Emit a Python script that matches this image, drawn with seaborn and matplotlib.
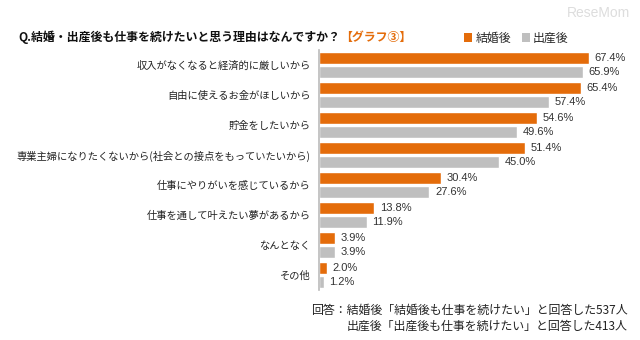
import matplotlib
matplotlib.use("Agg")
import matplotlib.pyplot as plt
from matplotlib.patches import Patch
import seaborn as sns
import pandas as pd

categories = [
    "収入がなくなると経済的に厳しいから",
    "自由に使えるお金がほしいから",
    "貯金をしたいから",
    "専業主婦になりたくないから(社会との接点をもっていたいから)",
    "仕事にやりがいを感じているから",
    "仕事を通して叶えたい夢があるから",
    "なんとなく",
    "その他",
]
series_names = ["結婚後", "出産後"]
after_marriage = [67.4, 65.4, 54.6, 51.4, 30.4, 13.8, 3.9, 2.0]
after_birth = [65.9, 57.4, 49.6, 45.0, 27.6, 11.9, 3.9, 1.2]
colors = ["#E46C0A", "#BFBFBF"]

title_main = "Q.結婚・出産後も仕事を続けたいと思う理由はなんですか？"
title_tag = "【グラフ③】"
footnotes = [
    "回答：結婚後「結婚後も仕事を続けたい」と回答した537人",
    "出産後「出産後も仕事を続けたい」と回答した413人",
]

df = pd.DataFrame({
    "category": categories * 2,
    "value": after_marriage + after_birth,
    "series": [series_names[0]] * len(categories) + [series_names[1]] * len(categories),
})

sns.set_theme(style="white")
plt.rcParams["font.family"] = ["Noto Sans CJK JP", "DejaVu Sans"]

W, H = 640, 340
fig = plt.figure(figsize=(W / 100, H / 100), dpi=100)
ax = fig.add_axes([319 / W, 1 - 290 / H, 300 / W, 240 / H])

sns.barplot(data=df, x="value", y="category", hue="series", orient="h",
            palette=colors, width=0.88, gap=0.1, legend=False, ax=ax,
            saturation=1, errorbar=None)

ax.set_xlim(0, 75)
ax.set_ylim(len(categories) - 0.5, -0.5)
ax.set_xlabel("")
ax.set_ylabel("")
ax.set_xticks([])
for s in ["top", "right", "bottom"]:
    ax.spines[s].set_visible(False)
ax.spines["left"].set_color("#BBBBBB")
ax.spines["left"].set_linewidth(1.2)
ax.tick_params(axis="y", length=0, pad=6, labelsize=7.4, labelcolor="#222222")

for cont in ax.containers:
    ax.bar_label(cont, fmt="%.1f%%", padding=4, fontsize=8,
                 color="#333333", family=["Liberation Sans", "DejaVu Sans"])

# Title (two colours)
t1 = fig.text(18 / W, 1 - 37 / H, title_main, fontsize=8.6, fontweight="bold",
              color="#111111", va="center", ha="left")
fig.canvas.draw()
bb = t1.get_window_extent(renderer=fig.canvas.get_renderer())
fig.text(bb.x1 / W, 1 - 37 / H, title_tag, fontsize=8.6, fontweight="bold",
         color="#E46C0A", va="center", ha="left")

# Legend
handles = [Patch(facecolor=c, edgecolor="none") for c in colors]
fig.legend(handles, series_names, loc="center left",
           bbox_to_anchor=(464 / W, 1 - 38 / H), ncol=2, frameon=False,
           fontsize=8.6, handlelength=0.7, handleheight=0.7,
           handletextpad=0.25, columnspacing=0.9, borderaxespad=0, borderpad=0)

# Footnotes
fig.text(628 / W, 1 - 310 / H, footnotes[0], fontsize=8.6, ha="right",
         va="center", color="#222222")
fig.text(628 / W, 1 - 326 / H, footnotes[1], fontsize=8.6, ha="right",
         va="center", color="#222222")

# Watermark
fig.text(598 / W, 1 - 13 / H, "ReseMom", fontsize=10, ha="center",
         va="center", color="#DDDDDD", family=["Liberation Sans"])

fig.savefig("out.png", dpi=100)
